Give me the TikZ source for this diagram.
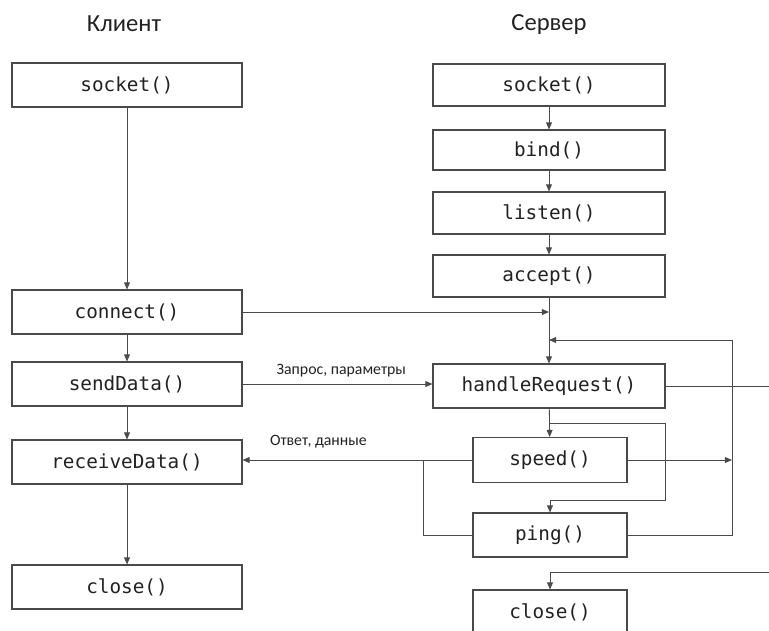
\documentclass[tikz,border=0pt]{standalone}
\usepackage{fontspec}
\setmainfont{Carlito}
\setmonofont{DejaVu Sans Mono}
\usepackage{xcolor}
\usepackage{tikz}
\usetikzlibrary{arrows.meta,positioning,calc}
\definecolor{cLine}{HTML}{4A4A4A}
\definecolor{cText}{HTML}{222222}
\tikzset{
  blk/.style   = {rectangle, draw=cLine, line width=0.9pt, fill=white,
                  align=center, text=cText, inner sep=0pt,
                  font=\ttfamily\fontsize{16.5}{19}\selectfont},
  cbox/.style  = {blk, minimum width=6.9cm, minimum height=1.32cm},
  sbox/.style  = {blk, minimum width=6.96cm, minimum height=1.26cm},
  nbox/.style  = {blk, minimum width=4.62cm, minimum height=1.32cm},
  ttl/.style   = {font=\fontsize{21}{24}\selectfont, text=cText},
  ln/.style    = {draw=cLine, line width=0.7pt},
  fl/.style    = {ln, -{Triangle[length=6pt,width=5pt]}},
  lab/.style   = {font=\fontsize{13.5}{15}\selectfont, text=cText, inner sep=1pt},
}
\begin{document}
\begin{tikzpicture}[x=0.03cm,y=-0.03cm]
      \useasboundingbox (0,0) rectangle (769,630);
      \clip (0,0) rectangle (769,630);

      % ---- headings ----
      \node[ttl] (tCl) at (124,24) {Клиент};
      \node[ttl] (tSv) at (549,24) {Сервер};

      % ---- client column ----
      \node[cbox] (cSock) at (127,85)  {socket()};
      \node[cbox] (cConn) at (127,312) {connect()};
      \node[cbox] (cSend) at (127,384) {sendData()};
      \node[cbox] (cRecv) at (127,462) {receiveData()};
      \node[cbox] (cClos) at (127,587) {close()};

      % ---- server column ----
      \node[sbox] (sSock) at (549,85)  {socket()};
      \node[sbox, minimum height=1.2cm] (sBind) at (549,150) {bind()};
      \node[sbox] (sLis)  at (549,213) {listen()};
      \node[sbox] (sAcc)  at (549,276) {accept()};
      \node[sbox, minimum height=1.32cm] (sHand) at (549,386) {handleRequest()};
      \node[nbox, minimum height=1.35cm] (sSpeed) at (550,460) {speed()};
      \node[nbox] (sPing)  at (550,535) {ping()};
      \node[nbox] (sClose) at (550,612) {close()};

      % ---- helper points ----
      \coordinate (loopR) at (732,340);
      \coordinate (loopIn) at (549,340);
      \coordinate (hrOut) at (780,386);
      \coordinate (clIn) at (780,572);
      \coordinate (br1) at (549,423);
      \coordinate (br2) at (665,500);
      \coordinate (br3) at (423,460);

      % ---- client flow ----
      \draw[fl] (cSock) -- (cConn);
      \draw[fl] (cConn) -- (cSend);
      \draw[fl] (cSend) -- (cRecv);
      \draw[fl] (cRecv) -- (cClos);

      % ---- server flow ----
      \draw[fl] (sSock) -- (sBind);
      \draw[fl] (sBind) -- (sLis);
      \draw[fl] (sLis) -- (sAcc);
      \draw[fl] (sAcc) -- (sHand);
      \draw[fl] (sHand) -- (sSpeed);
      \draw[fl] (br1) -| (br2) -| (sPing.north);
      \draw[fl] (sPing.east) -| (loopR) -- (loopIn);
      \draw[fl] (sSpeed.east) -- (sSpeed.east -| loopR);
      \draw[ln] (sHand.east) -- (hrOut);
      \draw[fl] (clIn) -| (sClose.north);

      % ---- client <-> server ----
      \draw[fl] (cConn.east) -- (cConn.east -| sAcc.south);
      \draw[fl] (cSend.east) -- node[lab, above=5pt, pos=0.52] {Запрос, параметры} (cSend.east -| sHand.west);
      \draw[fl] (sSpeed.west) -- node[lab, above=9pt, pos=0.67] {Ответ, данные} (sSpeed.west -| cRecv.east);
      \draw[ln] (br3) |- (sPing.west);
\end{tikzpicture}
\end{document}
